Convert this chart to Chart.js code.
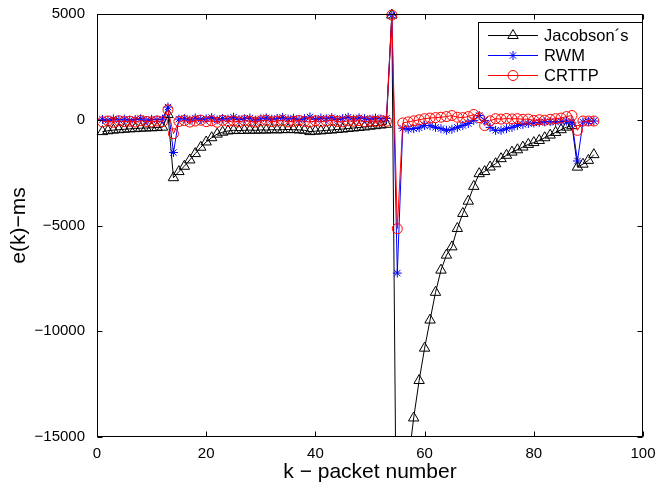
<!DOCTYPE html>
<html><head><meta charset="utf-8">
<script src="https://cdn.jsdelivr.net/npm/chart.js@4/dist/chart.umd.min.js"></script>
<style>html,body{margin:0;padding:0;background:#fff}canvas{display:block}</style>
</head><body>
<canvas id="c" width="658" height="487"></canvas>
<script>
const packetNumbers = [1,2,3,4,5,6,7,8,9,10,11,12,13,14,15,16,17,18,19,20,21,22,23,24,25,26,27,28,29,30,31,32,33,34,35,36,37,38,39,40,41,42,43,44,45,46,47,48,49,50,51,52,53,54,55,56,57,58,59,60,61,62,63,64,65,66,67,68,69,70,71,72,73,74,75,76,77,78,79,80,81,82,83,84,85,86,87,88,89,90,91];
const jacobson = [-560,-520,-490,-470,-450,-430,-420,-400,-390,-380,-370,-350,250,-2740,-2450,-2200,-1900,-1600,-1300,-1050,-850,-680,-590,-530,-500,-510,-500,-490,-500,-480,-490,-470,-480,-470,-460,-470,-480,-500,-560,-540,-525,-500,-485,-460,-440,-415,-390,-365,-340,-305,-280,-250,-215,4950,-25000,-20000,-16200,-14100,-12330,-10800,-9470,-8160,-7110,-6400,-6010,-5140,-4430,-3850,-3150,-2550,-2450,-2235,-2080,-1840,-1680,-1530,-1420,-1290,-1165,-1080,-980,-850,-725,-600,-470,-350,-280,-2240,-2100,-1920,-1650];
const rwm = [20,-30,40,-10,30,-20,10,50,-40,20,0,30,600,-1550,30,60,-20,80,20,40,100,-10,60,30,120,10,50,80,-20,40,90,20,60,110,30,70,0,50,130,20,80,40,100,10,60,120,30,90,50,20,80,40,60,4950,-7250,-400,-450,-420,-380,-270,-280,-360,-420,-500,-450,-360,-270,-180,-30,200,-30,-360,-500,-500,-420,-360,-270,-220,-180,-150,-120,-100,-90,-110,-80,-60,-150,-1950,-110,-80,-60];
const crttp = [-100,-60,-120,-50,-90,-70,-110,-40,-80,-100,-60,-90,470,-660,-80,-40,-110,-60,-20,-90,-50,-120,-30,-80,-60,-100,-40,-70,-110,-50,-20,-90,-60,-30,-100,-70,-40,-80,-110,-50,-90,-60,-30,-80,-100,-50,-70,-40,-90,-60,-80,-50,-70,4950,-5150,-150,-100,-50,0,50,80,100,120,150,200,120,100,150,250,100,-270,-50,50,30,60,40,50,20,30,-30,0,-20,20,50,80,150,200,-500,-60,-60,-60];
const xTicks = [0,20,40,60,80,100];
const yTicks = [-15000,-10000,-5000,0,5000];
const seriesNames = ['Jacobson\u00b4s','RWM','CRTTP'];
const xTitle = 'k \u2212 packet number';
const yTitle = 'e(k)\u2212ms';

const FONT = '"Liberation Sans", Arial, Helvetica, sans-serif';
function pts(arr){ return arr.map((v,i)=>({x: packetNumbers[i], y: v})); }
function fmt(v){ return v < 0 ? '\u2212' + Math.abs(v) : String(v); }

function marker(ctx, style, x, y, r, color){
  ctx.save();
  ctx.strokeStyle = color; ctx.lineWidth = 1;
  ctx.beginPath();
  if (style === 'triangle'){
    for (let k=0;k<3;k++){
      const a = k*2*Math.PI/3;
      const px = x + Math.sin(a)*r, py = y - Math.cos(a)*r;
      if (k===0) ctx.moveTo(px,py); else ctx.lineTo(px,py);
    }
    ctx.closePath();
  } else if (style === 'circle'){
    ctx.arc(x,y,r,0,Math.PI*2);
  } else {
    ctx.moveTo(x-r,y); ctx.lineTo(x+r,y);
    ctx.moveTo(x,y-r); ctx.lineTo(x,y+r);
    const d = r*Math.SQRT1_2;
    ctx.moveTo(x-d,y-d); ctx.lineTo(x+d,y+d);
    ctx.moveTo(x-d,y+d); ctx.lineTo(x+d,y-d);
  }
  ctx.stroke();
  ctx.restore();
}

const frame = {
  id:'frame',
  afterDraw(chart){
    const {ctx, chartArea:a, scales} = chart;
    const L = Math.round(a.left)+0.5, R = Math.round(a.right)-0.5, T = Math.round(a.top)+0.5, B = Math.round(a.bottom)-0.5;
    ctx.save();
    ctx.strokeStyle = '#000'; ctx.lineWidth = 1;
    ctx.strokeRect(L, T, R-L, B-T);
    ctx.beginPath();
    xTicks.forEach(v=>{
      const px = Math.round(scales.x.getPixelForValue(v))+0.5;
      ctx.moveTo(px,B); ctx.lineTo(px,B-5);
      ctx.moveTo(px,T); ctx.lineTo(px,T+5);
    });
    yTicks.forEach(v=>{
      const py = Math.round(scales.y.getPixelForValue(v))+0.5;
      ctx.moveTo(L,py); ctx.lineTo(L+5,py);
      ctx.moveTo(R,py); ctx.lineTo(R-5,py);
    });
    ctx.stroke();

    // legend
    const lx = 478.5, ly = 22.5, lw = 164, lh = 66;
    ctx.fillStyle = '#fff';
    ctx.fillRect(lx, ly, lw, lh);
    ctx.strokeRect(lx, ly, lw, lh);
    const styles = ['triangle','star','circle'];
    const colors = ['#000000','#0000ff','#ff0000'];
    const radii = [6,4.5,5];
    ctx.font = '16.5px ' + FONT;
    ctx.textBaseline = 'middle';
    ctx.textAlign = 'left';
    seriesNames.forEach((n,i)=>{
      const yy = 35 + i*20;
      ctx.strokeStyle = colors[i]; ctx.lineWidth = 1;
      ctx.beginPath(); ctx.moveTo(488, yy+0.5); ctx.lineTo(538, yy+0.5); ctx.stroke();
      marker(ctx, styles[i], 513, yy+0.5, radii[i], colors[i]);
      ctx.fillStyle = '#000';
      ctx.fillText(n, 544, yy+1);
    });
    ctx.restore();
  }
};

const clip = {left: 10, right: 10, top: false, bottom: 0};
new Chart(document.getElementById('c'), {
  type: 'line',
  data: {
    datasets: [
      {label: seriesNames[0], data: pts(jacobson), borderColor:'#000', backgroundColor:'rgba(0,0,0,0)', borderWidth:1,
       pointStyle:'triangle', pointRadius:6, pointBorderWidth:1, pointBorderColor:'#000', pointBackgroundColor:'rgba(0,0,0,0)', order:3, clip},
      {label: seriesNames[1], data: pts(rwm), borderColor:'#0000ff', backgroundColor:'rgba(0,0,0,0)', borderWidth:1,
       pointStyle:'star', pointRadius:4.5, pointBorderWidth:1, pointBorderColor:'#0000ff', pointBackgroundColor:'rgba(0,0,0,0)', order:2, clip},
      {label: seriesNames[2], data: pts(crttp), borderColor:'#ff0000', backgroundColor:'rgba(0,0,0,0)', borderWidth:1,
       pointStyle:'circle', pointRadius:5, pointBorderWidth:1, pointBorderColor:'#ff0000', pointBackgroundColor:'rgba(0,0,0,0)', order:1, clip}
    ]
  },
  options: {
    responsive:false, animation:false, devicePixelRatio:1,
    layout:{autoPadding:false, padding:{top:14, right:15, left:0, bottom:0}},
    plugins:{legend:{display:false}, tooltip:{enabled:false}},
    elements:{line:{tension:0}},
    scales:{
      x:{type:'linear', min:0, max:100,
         afterBuildTicks(s){ s.ticks = xTicks.map(v=>({value:v})); },
         afterFit(s){ s.height = 50; },
         grid:{display:false, drawTicks:true, tickLength:8}, border:{display:false},
         ticks:{padding:0, color:'#000', font:{family:FONT, size:15}, maxRotation:0, callback:v=>fmt(v)},
         title:{display:true, text:xTitle, color:'#000', font:{family:FONT, size:21}, padding:{bottom:2, top:0}}},
      y:{type:'linear', min:-15000, max:5000,
         afterBuildTicks(s){ s.ticks = yTicks.map(v=>({value:v})); },
         afterFit(s){ s.width = 97; },
         grid:{display:false, drawTicks:true, tickLength:12}, border:{display:false},
         ticks:{padding:0, color:'#000', font:{family:FONT, size:15}, callback:v=>fmt(v)},
         title:{display:true, text:yTitle, color:'#000', font:{family:FONT, size:21}, padding:{top:7, bottom:0}}}
    }
  },
  plugins:[frame]
});
</script>
</body></html>
